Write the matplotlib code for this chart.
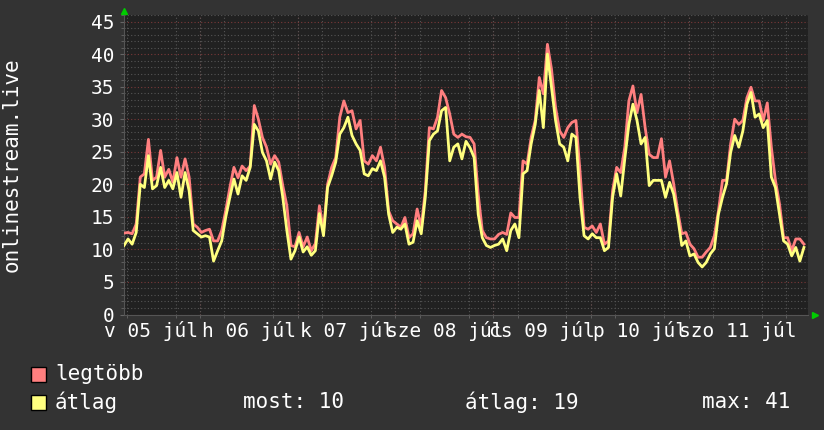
import matplotlib
matplotlib.use("Agg")
import matplotlib.pyplot as plt
import matplotlib.dates as mdates
from matplotlib.patches import Rectangle
import pandas as pd

# hourly samples (first one at Jul 5 ~05:20)
max_values = [
    12.5, 12.6, 12.4, 13.9, 21.1, 21.6, 26.9, 20.6, 21.1, 25.2, 21.1, 22.3, 20.3, 24.1, 21.1, 23.9,
    21.1, 13.9, 13.4, 12.6, 12.9, 13.1, 11.3, 11.3, 12.9, 16.0, 19.5, 22.6, 21.0, 22.8, 22.1, 22.8,
    32.1, 30.0, 27.2, 25.7, 23.1, 24.4, 23.4, 19.8, 16.7, 10.6, 10.4, 12.6, 10.4, 11.9, 9.8, 10.9,
    16.7, 12.9, 20.0, 22.6, 24.1, 30.3, 32.8, 31.0, 31.3, 28.5, 29.8, 23.6, 23.1, 24.4, 23.6, 25.7,
    22.6, 15.9, 14.4, 13.9, 13.4, 14.9, 11.8, 12.4, 16.2, 13.4, 19.0, 28.7, 28.5, 30.3, 34.4, 33.3,
    30.8, 27.7, 27.2, 27.7, 27.3, 27.2, 26.2, 18.5, 12.9, 11.8, 11.6, 11.6, 12.3, 12.6, 12.3, 15.6,
    14.9, 14.9, 23.6, 23.1, 27.2, 29.8, 36.4, 33.9, 41.5, 37.7, 31.8, 28.2, 27.2, 28.7, 29.5, 29.8,
    22.0, 13.4, 13.1, 13.6, 12.6, 13.9, 10.8, 11.3, 19.0, 22.6, 21.8, 25.7, 32.8, 35.1, 31.0, 33.8,
    28.7, 24.6, 24.1, 24.1, 27.0, 21.1, 23.6, 20.1, 15.9, 12.4, 12.6, 10.8, 10.1, 8.8, 8.8, 9.6,
    10.3, 12.1, 15.9, 20.6, 20.6, 26.2, 30.0, 29.2, 29.8, 33.3, 34.9, 32.8, 32.8, 29.8, 32.5, 25.7,
    20.6, 17.0, 11.8, 11.8, 9.8, 11.6, 11.6, 10.8,
]
avg_values = [
    10.6, 11.6, 10.8, 12.6, 20.0, 19.5, 24.4, 19.3, 19.8, 22.6, 19.5, 20.6, 19.3, 21.8, 18.0, 21.8,
    19.0, 12.9, 12.4, 11.9, 12.1, 11.9, 8.2, 9.8, 11.3, 15.0, 18.0, 20.8, 18.5, 21.3, 20.6, 22.6,
    29.2, 28.2, 24.9, 23.6, 20.8, 23.4, 22.1, 18.0, 12.9, 8.5, 9.8, 11.9, 9.6, 10.4, 9.1, 9.8,
    15.5, 12.1, 19.5, 21.3, 23.4, 27.7, 28.7, 30.3, 27.5, 26.2, 25.2, 21.6, 21.3, 22.4, 22.1, 23.6,
    21.1, 15.4, 12.6, 13.4, 13.1, 13.9, 10.8, 11.1, 14.4, 12.4, 18.0, 26.7, 27.7, 28.2, 31.3, 31.8,
    23.6, 25.7, 26.2, 23.9, 26.6, 25.6, 24.1, 15.4, 11.8, 10.6, 10.3, 10.6, 10.8, 11.6, 9.8, 12.9,
    13.9, 11.8, 21.6, 22.1, 26.2, 29.2, 34.4, 28.7, 40.0, 34.9, 29.8, 26.2, 25.7, 23.6, 27.7, 27.2,
    18.0, 12.1, 11.6, 12.4, 11.8, 11.8, 9.8, 10.3, 18.0, 21.6, 18.2, 23.9, 29.2, 32.3, 29.8, 26.2,
    27.2, 19.8, 20.6, 20.6, 20.6, 18.0, 20.3, 18.5, 14.9, 10.6, 11.3, 9.0, 9.3, 8.0, 7.3, 8.0,
    9.3, 10.1, 15.4, 18.0, 20.1, 24.9, 27.5, 25.7, 28.2, 32.3, 34.1, 30.3, 30.8, 28.7, 29.8, 21.1,
    19.5, 15.4, 11.3, 10.8, 9.0, 10.3, 8.2, 10.3,
]
day_labels = ["v 05 júl", "h 06 júl", "k 07 júl", "sze 08 júl", "cs 09 júl", "p 10 júl", "szo 11 júl"]
legend_names = ["legtöbb", "átlag"]
stats_text = ["most: 10", "átlag: 19", "max: 41"]

BG = "#333333"
PLOT_BG = "#212121"
MAX_COLOR = "#ff7f7f"
AVG_COLOR = "#ffff7f"
FONT = "DejaVu Sans Mono"

times = pd.date_range("2020-07-05 05:20", periods=len(max_values), freq="h")
start = pd.Timestamp("2020-07-05 05:20")
end = pd.Timestamp("2020-07-12 05:20")

fig = plt.figure(figsize=(8.24, 4.30), dpi=100, facecolor=BG)
ax = fig.add_axes([124 / 824, 1 - 314.5 / 430, 684 / 824, 299.5 / 430])
ax.set_facecolor(PLOT_BG)

ax.plot(times, max_values, color=MAX_COLOR, lw=2, zorder=3)
ax.plot(times, avg_values, color=AVG_COLOR, lw=2, zorder=4)

ax.set_xlim(start, end)
ax.set_ylim(0, 46)

# y grid: minor every 1, major every 5
ax.set_yticks(range(0, 46, 5))
ax.set_yticks(range(0, 47), minor=True)
ax.grid(True, axis="y", which="minor", color="#555555", ls=(0, (1, 2)), lw=0.8)
ax.grid(True, axis="y", which="major", color="#7a3838", ls=(0, (1, 2)), lw=0.8)

# x grid: 6 hour minor lines, midnight major lines, labels at noon
ax.xaxis.set_minor_locator(mdates.HourLocator(byhour=[0, 6, 12, 18]))
ax.grid(True, axis="x", which="minor", color="#555555", ls=(0, (1, 2)), lw=0.8)
days = pd.date_range("2020-07-05", periods=len(day_labels), freq="D")
for d in days[1:]:
    ax.axvline(d, color="#7a3838", ls=(0, (1, 2)), lw=0.8, zorder=1)
ax.set_xticks(days + pd.Timedelta(hours=12))
ax.set_xticklabels(day_labels)

ax.tick_params(axis="x", which="major", length=0, pad=5, labelsize=14, labelcolor="white")
ax.tick_params(axis="x", which="minor", length=2, color="#666666")
ax.tick_params(axis="y", which="major", length=3, pad=4, labelsize=14, labelcolor="white", color="#666666")
ax.tick_params(axis="y", which="minor", length=2, color="#666666")
for lab in ax.get_xticklabels() + ax.get_yticklabels():
    lab.set_family(FONT)

for side in ["top", "right"]:
    ax.spines[side].set_visible(False)
for side in ["left", "bottom"]:
    ax.spines[side].set_color("#555555")

# green arrow heads at axis ends
ax.plot([0], [1.015], marker="^", color="#00cc00", ms=5, transform=ax.transAxes, clip_on=False)
ax.plot([1.01], [0], marker=">", color="#00cc00", ms=5, transform=ax.transAxes, clip_on=False)

fig.text(12 / 824, 1 - 165 / 430, "onlinestream.live", rotation=90, color="white",
         fontsize=15, family=FONT, ha="center", va="center")

# legend
for row, (name, col) in enumerate(zip(legend_names, [MAX_COLOR, AVG_COLOR])):
    yc = 374 + row * 28
    fig.patches.append(Rectangle((31 / 824, 1 - (yc + 7.5) / 430), 15 / 824, 15 / 430,
                                 transform=fig.transFigure, facecolor=col,
                                 edgecolor="black", lw=1))
    fig.text(55 / 824, 1 - yc / 430, name, color="white", fontsize=15, family=FONT,
             va="center", ha="left")
for x0, txt in zip([243, 465, 702], stats_text):
    fig.text(x0 / 824, 1 - 402 / 430, txt, color="white", fontsize=15, family=FONT,
             va="center", ha="left")

fig.savefig("out.png", dpi=100, facecolor=BG)
